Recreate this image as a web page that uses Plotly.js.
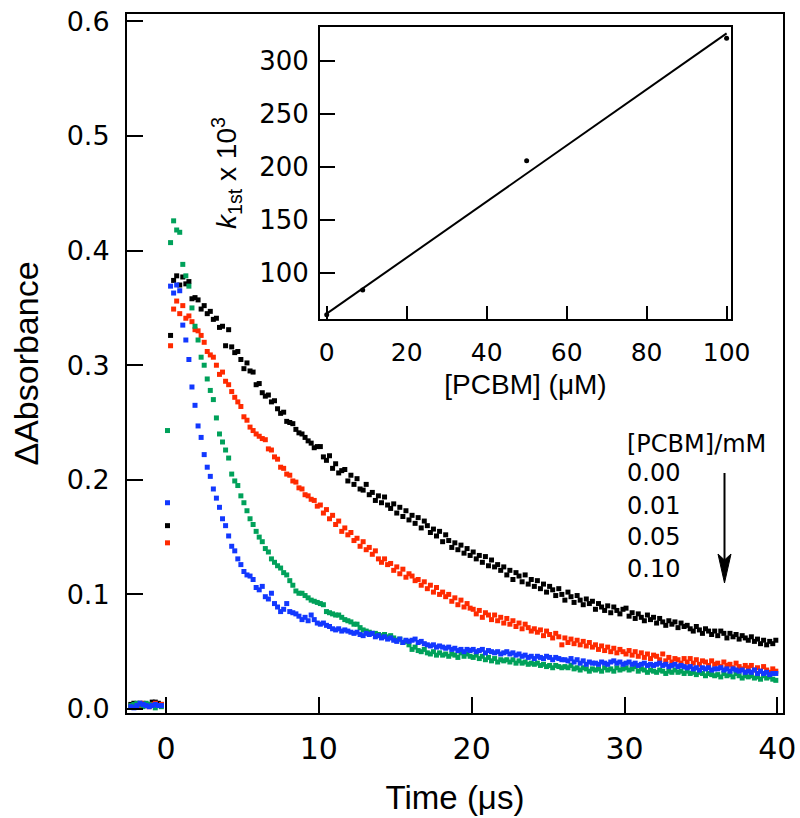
<!DOCTYPE html>
<html>
<head>
<meta charset="utf-8">
<script src="https://cdn.plot.ly/plotly-3.0.1.min.js"></script>
<style>html,body{margin:0;padding:0;background:#fff;}#chart{width:800px;height:818px;}</style>
</head>
<body>
<div id="chart"></div>
<script>
// ---- Main panel data: transient absorbance vs time (µs) ----
const preTime = [-2.3,-2.1,-1.9,-1.7,-1.5,-1.3,-1.1,-0.9,-0.7,-0.5,-0.3];
const time = [
0.1,0.3,0.5,0.7,0.9,1.1,1.3,1.5,1.7,1.9,
2.1,2.3,2.5,2.7,2.9,3.1,3.3,3.5,3.7,3.9,
4.1,4.3,4.5,4.7,4.9,5.1,5.3,5.5,5.7,5.9,
6.1,6.3,6.5,6.7,6.9,7.1,7.3,7.5,7.7,7.9,
8.1,8.3,8.5,8.7,8.9,9.1,9.3,9.5,9.7,9.9,
10.1,10.3,10.5,10.7,10.9,11.1,11.3,11.5,11.7,11.9,
12.1,12.3,12.5,12.7,12.9,13.1,13.3,13.5,13.7,13.9,
14.1,14.3,14.5,14.7,14.9,15.1,15.3,15.5,15.7,15.9,
16.1,16.3,16.5,16.7,16.9,17.1,17.3,17.5,17.7,17.9,
18.1,18.3,18.5,18.7,18.9,19.1,19.3,19.5,19.7,19.9,
20.1,20.3,20.5,20.7,20.9,21.1,21.3,21.5,21.7,21.9,
22.1,22.3,22.5,22.7,22.9,23.1,23.3,23.5,23.7,23.9,
24.1,24.3,24.5,24.7,24.9,25.1,25.3,25.5,25.7,25.9,
26.1,26.3,26.5,26.7,26.9,27.1,27.3,27.5,27.7,27.9,
28.1,28.3,28.5,28.7,28.9,29.1,29.3,29.5,29.7,29.9,
30.1,30.3,30.5,30.7,30.9,31.1,31.3,31.5,31.7,31.9,
32.1,32.3,32.5,32.7,32.9,33.1,33.3,33.5,33.7,33.9,
34.1,34.3,34.5,34.7,34.9,35.1,35.3,35.5,35.7,35.9,
36.1,36.3,36.5,36.7,36.9,37.1,37.3,37.5,37.7,37.9,
38.1,38.3,38.5,38.7,38.9,39.1,39.3,39.5,39.7,39.9];

const preBlack = [0.004,0.005,0.003,0.005,0.004,0.003,0.004,0.006,0.006,0.005,0.004];
const preRed   = [0.003,0.002,0.004,0.003,0.005,0.003,0.002,0.004,0.005,0.003,0.004];
const preGreen = [0.003,0.004,0.005,0.004,0.002,0.005,0.004,0.003,0.001,0.003,0.002];
const preBlue  = [0.002,0.001,0.003,0.005,0.004,0.003,0.002,0.003,0.004,0.003,0.003];

const absBlack = [ // [PCBM] = 0.00 mM
0.160,0.326,0.374,0.378,0.370,0.377,0.371,0.373,0.358,0.359,
0.357,0.349,0.352,0.345,0.347,0.340,0.341,0.333,0.334,0.317,
0.331,0.316,0.311,0.312,0.305,0.297,0.302,0.295,0.294,0.283,
0.284,0.276,0.273,0.274,0.268,0.269,0.262,0.258,0.259,0.251,
0.250,0.249,0.244,0.241,0.240,0.237,0.234,0.232,0.228,0.229,
0.229,0.220,0.217,0.221,0.210,0.214,0.206,0.208,0.209,0.199,
0.204,0.196,0.201,0.192,0.191,0.196,0.187,0.189,0.182,0.186,
0.180,0.185,0.178,0.175,0.179,0.171,0.176,0.168,0.173,0.165,
0.169,0.162,0.167,0.158,0.164,0.160,0.154,0.157,0.151,0.155,
0.146,0.152,0.147,0.141,0.145,0.139,0.143,0.136,0.140,0.134,
0.137,0.131,0.134,0.128,0.133,0.125,0.130,0.124,0.126,0.121,
0.124,0.117,0.121,0.113,0.119,0.116,0.111,0.117,0.109,0.113,
0.107,0.112,0.105,0.109,0.102,0.107,0.104,0.099,0.105,0.100,
0.095,0.102,0.098,0.093,0.099,0.095,0.091,0.096,0.092,0.094,
0.087,0.092,0.089,0.086,0.090,0.084,0.089,0.086,0.083,0.087,
0.088,0.081,0.084,0.079,0.083,0.080,0.077,0.082,0.078,0.080,
0.075,0.079,0.076,0.073,0.077,0.074,0.076,0.071,0.075,0.072,
0.073,0.070,0.068,0.072,0.069,0.066,0.070,0.068,0.065,0.068,
0.064,0.068,0.066,0.062,0.066,0.063,0.065,0.061,0.064,0.062,
0.060,0.063,0.059,0.061,0.057,0.060,0.056,0.059,0.057,0.060];

const absRed = [ // [PCBM] = 0.01 mM
0.145,0.317,0.349,0.356,0.345,0.352,0.341,0.343,0.338,0.331,
0.330,0.326,0.320,0.312,0.309,0.307,0.300,0.292,0.294,0.286,
0.283,0.277,0.272,0.268,0.264,0.255,0.252,0.246,0.243,0.240,
0.238,0.236,0.235,0.227,0.226,0.220,0.218,0.211,0.210,0.205,
0.204,0.199,0.198,0.193,0.192,0.187,0.186,0.183,0.182,0.177,
0.178,0.171,0.174,0.166,0.169,0.161,0.164,0.155,0.158,0.152,
0.154,0.147,0.149,0.142,0.146,0.139,0.141,0.135,0.138,0.131,
0.128,0.131,0.126,0.127,0.121,0.124,0.118,0.122,0.115,0.118,
0.116,0.112,0.113,0.108,0.111,0.105,0.108,0.102,0.106,0.100,
0.102,0.098,0.100,0.094,0.097,0.091,0.095,0.089,0.092,0.088,
0.087,0.083,0.086,0.080,0.084,0.082,0.078,0.082,0.077,0.080,
0.075,0.079,0.074,0.077,0.072,0.075,0.070,0.074,0.071,0.068,
0.070,0.067,0.069,0.064,0.068,0.065,0.062,0.066,0.063,0.056,
0.062,0.058,0.061,0.057,0.060,0.056,0.059,0.055,0.058,0.054,
0.056,0.052,0.055,0.051,0.054,0.050,0.053,0.049,0.052,0.050,
0.048,0.051,0.047,0.050,0.046,0.049,0.045,0.048,0.044,0.047,
0.046,0.043,0.048,0.042,0.045,0.041,0.044,0.043,0.040,0.044,
0.041,0.044,0.040,0.043,0.039,0.042,0.041,0.038,0.042,0.039,
0.040,0.037,0.041,0.038,0.039,0.036,0.040,0.037,0.035,0.038,
0.036,0.038,0.034,0.036,0.033,0.037,0.034,0.032,0.035,0.033];

const absGreen = [ // [PCBM] = 0.05 mM
0.243,0.407,0.426,0.418,0.416,0.388,0.378,0.369,0.350,0.334,
0.322,0.307,0.300,0.288,0.278,0.270,0.254,0.240,0.233,0.226,
0.219,0.205,0.199,0.195,0.186,0.180,0.173,0.166,0.161,0.155,
0.150,0.146,0.140,0.137,0.131,0.128,0.125,0.123,0.119,0.117,
0.112,0.108,0.103,0.101,0.101,0.099,0.097,0.095,0.094,0.093,
0.092,0.091,0.085,0.084,0.083,0.082,0.082,0.080,0.078,0.077,
0.076,0.074,0.074,0.071,0.069,0.068,0.067,0.066,0.066,0.065,
0.064,0.065,0.063,0.064,0.062,0.060,0.061,0.058,0.059,0.056,
0.052,0.054,0.051,0.050,0.052,0.049,0.048,0.050,0.047,0.049,
0.047,0.048,0.046,0.048,0.047,0.045,0.049,0.046,0.048,0.046,
0.045,0.047,0.044,0.046,0.043,0.045,0.042,0.044,0.041,0.043,
0.042,0.043,0.041,0.043,0.040,0.042,0.040,0.041,0.039,0.040,
0.039,0.040,0.038,0.039,0.037,0.038,0.036,0.038,0.037,0.036,
0.037,0.036,0.038,0.035,0.036,0.034,0.036,0.035,0.033,0.035,
0.034,0.035,0.033,0.036,0.034,0.035,0.033,0.036,0.034,0.035,
0.036,0.034,0.035,0.037,0.033,0.035,0.034,0.032,0.034,0.033,
0.032,0.034,0.033,0.031,0.033,0.032,0.034,0.032,0.033,0.031,
0.033,0.031,0.032,0.030,0.032,0.031,0.029,0.031,0.030,0.029,
0.030,0.028,0.031,0.029,0.030,0.028,0.031,0.029,0.027,0.029,
0.028,0.029,0.027,0.028,0.026,0.029,0.027,0.028,0.026,0.025];

const absBlue = [ // [PCBM] = 0.10 mM
0.180,0.369,0.363,0.370,0.365,0.335,0.322,0.305,0.281,0.265,
0.247,0.237,0.222,0.211,0.203,0.192,0.184,0.176,0.166,0.160,
0.151,0.142,0.138,0.131,0.126,0.120,0.117,0.116,0.113,0.106,
0.104,0.107,0.098,0.096,0.101,0.092,0.089,0.085,0.087,0.092,
0.085,0.084,0.083,0.081,0.078,0.080,0.077,0.082,0.078,0.075,
0.074,0.075,0.073,0.072,0.070,0.069,0.070,0.068,0.069,0.068,
0.067,0.066,0.067,0.065,0.064,0.066,0.065,0.066,0.063,0.064,
0.062,0.063,0.061,0.062,0.060,0.059,0.061,0.058,0.060,0.059,
0.060,0.061,0.058,0.059,0.057,0.056,0.055,0.056,0.054,0.055,
0.054,0.053,0.054,0.052,0.053,0.051,0.052,0.050,0.052,0.051,
0.052,0.050,0.051,0.052,0.049,0.051,0.050,0.049,0.050,0.048,
0.049,0.050,0.048,0.049,0.047,0.048,0.046,0.047,0.045,0.046,
0.044,0.046,0.045,0.044,0.046,0.045,0.043,0.045,0.044,0.043,
0.043,0.042,0.044,0.041,0.043,0.040,0.042,0.039,0.041,0.040,
0.040,0.039,0.041,0.040,0.039,0.041,0.042,0.040,0.041,0.039,
0.040,0.041,0.039,0.040,0.038,0.039,0.040,0.038,0.039,0.038,
0.039,0.040,0.038,0.039,0.037,0.038,0.039,0.037,0.038,0.037,
0.036,0.037,0.035,0.036,0.034,0.036,0.035,0.036,0.034,0.035,
0.035,0.036,0.034,0.035,0.033,0.035,0.034,0.033,0.034,0.032,
0.033,0.032,0.034,0.031,0.033,0.031,0.032,0.030,0.031,0.031];

// ---- Inset data: first-order rate constant vs [PCBM] ----
const pcbmUM = [0, 9, 50, 100];
const k1st = [61, 84.3, 206, 321.4];
const fitX = [0, 100];
const fitY = [62, 326];

// ---- Labels ----
const mainXTitle = 'Time (μs)';
const mainYTitle = 'ΔAbsorbance';
const insetXTitle = '[PCBM] (μM)';
const insetYTitle = '<i>k</i><sub>1st</sub> x 10<sup>3</sup>';
const legendTitle = '[PCBM]/mM';
const legendLabels = ['0.00', '0.01', '0.05', '0.10'];
const seriesColors = ['#000000', '#ff2a00', '#00a15a', '#1238ff'];
const mainXTicks = [0, 10, 20, 30, 40];
const mainYTicks = [0, 0.1, 0.2, 0.3, 0.4, 0.5, 0.6];
const insetXTicks = [0, 20, 40, 60, 80, 100];
const insetYTicks = [100, 150, 200, 250, 300];

const allX = preTime.concat(time);
const seriesY = [
  preBlack.concat(absBlack),
  preRed.concat(absRed),
  preGreen.concat(absGreen),
  preBlue.concat(absBlue)
];

const traces = seriesY.map((ys, i) => ({
  x: allX, y: ys, type: 'scatter', mode: 'markers',
  name: legendLabels[i],
  marker: {symbol: 'square', size: 5, color: seriesColors[i], line: {width: 0}},
  xaxis: 'x', yaxis: 'y', cliponaxis: false, hoverinfo: 'skip'
}));

traces.push({
  x: fitX, y: fitY, type: 'scatter', mode: 'lines',
  line: {color: 'black', width: 2}, xaxis: 'x2', yaxis: 'y2', cliponaxis: false
});
traces.push({
  x: pcbmUM, y: k1st, type: 'scatter', mode: 'markers',
  marker: {symbol: 'circle', size: 5, color: 'black'}, xaxis: 'x2', yaxis: 'y2', cliponaxis: false
});

const tickFamily = 'DejaVu Sans, Verdana, sans-serif';
const titleFamily = 'Liberation Sans, Arial, Helvetica, sans-serif';

function axisBase() {
  return {
    showline: true, linewidth: 2, linecolor: 'black', mirror: true,
    ticks: 'inside', tickwidth: 2, tickcolor: 'black',
    showgrid: false, zeroline: false, fixedrange: true, automargin: false
  };
}

const PX = px => (px - 127) / 656;
const PY = py => (713 - py) / 699;

const annotations = [
  {text: legendTitle, xref: 'paper', yref: 'paper', x: PX(625), y: PY(444),
   showarrow: false, xanchor: 'left', yanchor: 'middle', font: {family: tickFamily, size: 24, color: 'black'}}
];
const legendY = [473, 506, 537, 569];
legendLabels.forEach((lab, i) => annotations.push({
  text: lab, xref: 'paper', yref: 'paper', x: PX(625), y: PY(legendY[i]),
  showarrow: false, xanchor: 'left', yanchor: 'middle', font: {family: tickFamily, size: 24, color: 'black'}
}));

const shapes = [
  {type: 'line', xref: 'paper', yref: 'paper', x0: PX(724.5), x1: PX(724.5), y0: PY(473), y1: PY(562),
   line: {color: 'black', width: 2}},
  {type: 'path', xref: 'paper', yref: 'paper',
   path: `M${PX(718)},${PY(554)} L${PX(724.5)},${PY(583)} L${PX(731)},${PY(554)} L${PX(724.5)},${PY(560)} Z`,
   fillcolor: 'black', line: {color: 'black', width: 1}}
];

const layout = {
  width: 800, height: 818,
  margin: {l: 127, r: 17, t: 14, b: 105, pad: 0},
  paper_bgcolor: 'white', plot_bgcolor: 'rgba(0,0,0,0)',
  showlegend: false,
  xaxis: Object.assign(axisBase(), {
    domain: [0, 1], anchor: 'y', range: [-2.55, 40.37],
    tickvals: mainXTicks, ticklen: 16, ticklabelstandoff: 8,
    tickfont: {family: tickFamily, size: 30, color: 'black'},
    title: {text: mainXTitle, standoff: 21, font: {family: titleFamily, size: 33, color: 'black'}}
  }),
  yaxis: Object.assign(axisBase(), {
    domain: [0, 1], anchor: 'x', range: [-0.0035, 0.6065],
    tickvals: mainYTicks, tickformat: '.1f', ticklen: 16, ticklabelstandoff: 10,
    tickfont: {family: tickFamily, size: 27, color: 'black'},
    title: {text: mainYTitle, standoff: 18, font: {family: titleFamily, size: 34, color: 'black'}}
  }),
  xaxis2: Object.assign(axisBase(), {
    domain: [PX(320), PX(731)], anchor: 'y2', range: [-1.675, 101.1],
    tickvals: insetXTicks, ticklen: 13, ticklabelstandoff: 10,
    tickfont: {family: tickFamily, size: 25, color: 'black'},
    title: {text: insetXTitle, standoff: 8, font: {family: titleFamily, size: 28, color: 'black'}}
  }),
  yaxis2: Object.assign(axisBase(), {
    domain: [PY(319), PY(27)], anchor: 'x2', range: [57, 332],
    tickvals: insetYTicks, ticklen: 15, ticklabelstandoff: 4,
    tickfont: {family: tickFamily, size: 26, color: 'black'},
    title: {text: insetYTitle, standoff: 14, font: {family: titleFamily, size: 28, color: 'black'}}
  }),
  annotations: annotations,
  shapes: shapes
};

Plotly.newPlot('chart', traces, layout, {displayModeBar: false, staticPlot: true});
</script>
</body>
</html>
